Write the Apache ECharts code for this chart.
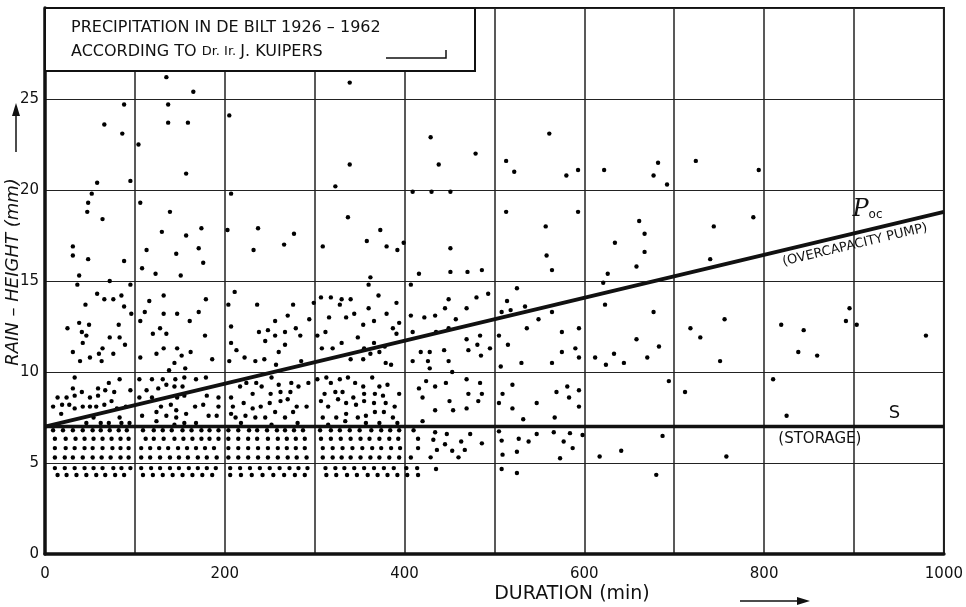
<!DOCTYPE html>
<html>
<head>
<meta charset="utf-8">
<script src="https://cdn.jsdelivr.net/npm/echarts@6/dist/echarts.min.js"></script>
<style>
  html, body { margin: 0; padding: 0; background: #fff; }
  #main { width: 966px; height: 607px; }
</style>
</head>
<body>
<div id="main"></div>
<script>
// axis labels
const xLabels = [0, 200, 400, 600, 800, 1000];
const yLabels = [0, 5, 10, 15, 20, 25];

// showers above 15 mm  [duration (min), rain height (mm)]
const stormsAbove15 = [
  [135,26.2],[165,25.4],[339,25.9],
  [88,24.7],[137,24.7],[66,23.6],[137,23.7],[159,23.7],[205,24.1],[86,23.1],[104,22.5],
  [429,22.9],[479,22.0],[339,21.4],[438,21.4],[157,20.9],[561,23.1],[513,21.6],[522,21.0],
  [580,20.8],[593,21.1],[622,21.1],[682,21.5],[677,20.8],[692,20.3],[724,21.6],[794,21.1],
  [58,20.4],[95,20.5],[323,20.2],[52,19.8],[48,19.3],[47,18.8],[64,18.4],[106,19.3],[139,18.8],
  [207,19.8],[409,19.9],[430,19.9],[451,19.9],[337,18.5],
  [130,17.7],[157,17.5],[174,17.9],[171,16.8],[176,16.0],[146,16.5],[113,16.7],[108,15.7],[123,15.4],[151,15.3],
  [31,16.9],[31,16.4],[48,16.2],[38,15.3],[88,16.1],[72,15.0],
  [203,17.8],[237,17.9],[232,16.7],[266,17.0],[277,17.6],[309,16.9],[358,17.2],[373,17.8],
  [380,16.9],[392,16.7],[399,17.1],[362,15.2],
  [513,18.8],[557,18.0],[558,16.4],[451,16.8],[416,15.4],[451,15.5],[470,15.5],[486,15.6],[564,15.6],[626,15.4],
  [593,18.8],[661,18.3],[667,17.6],[634,17.1],[667,16.6],[658,15.8],[744,18.0],[788,18.5],[740,16.2]
];

// showers between 10 and 15 mm
const storms10to15 = [
  [36,14.8],[360,14.8],[407,14.8],
  [58,14.3],[66,14.0],[76,14.0],[85,14.2],[45,13.7],[88,13.6],[96,13.2],[95,14.8],
  [25,12.4],[38,12.7],[41,12.2],[49,12.6],[46,12.0],[42,11.6],[31,11.1],[39,10.6],[50,10.8],
  [60,11.0],[63,10.6],[64,11.3],[72,11.9],[82,12.6],[83,11.9],[76,11.0],[89,11.5],
  [106,12.8],[111,13.3],[116,13.9],[132,14.2],[132,13.2],[128,12.4],[120,12.1],[135,12.1],
  [147,13.2],[161,12.8],[171,13.3],[179,14.0],[178,12.0],[124,11.0],[132,11.3],[106,10.8],
  [147,11.3],[152,10.9],[144,10.5],[162,11.1],[156,10.2],[138,10.1],[186,10.7],
  [204,13.7],[211,14.4],[236,13.7],[207,12.5],[207,11.6],[213,11.2],[205,10.6],[222,10.8],
  [234,10.6],[238,12.2],[248,12.3],[245,11.7],[256,12.8],[256,12.0],[260,11.1],[267,12.2],
  [270,13.1],[267,11.5],[276,13.7],[279,12.4],[284,12.0],[285,10.6],[294,12.9],[299,13.8],
  [244,10.7],[257,10.4],
  [303,12.0],[307,14.1],[318,14.1],[312,12.2],[316,13.0],[308,11.3],[320,11.3],[330,11.6],
  [328,13.7],[330,14.0],[340,14.0],[335,13.0],[344,13.2],[340,10.7],[354,12.6],[348,11.9],
  [360,13.5],[366,12.8],[366,11.6],[355,11.3],[354,10.7],[362,11.0],[371,14.2],[380,13.2],
  [391,13.8],[394,12.7],[387,12.4],[391,12.1],[378,11.4],[372,11.1],[379,10.5],[385,10.4],
  [407,13.1],[409,12.2],[409,10.6],
  [525,14.6],[493,14.3],[480,14.1],[449,14.0],[445,13.5],[469,13.5],[422,13.0],[434,13.1],
  [457,12.9],[514,13.9],[518,13.4],[534,13.6],[508,13.3],[564,13.3],[549,12.9],[435,12.2],
  [449,12.4],[536,12.4],[575,12.2],[594,12.4],[469,11.8],[484,12.0],[505,12.0],[481,11.5],
  [495,11.3],[471,11.2],[444,11.2],[418,11.1],[428,11.1],[515,11.5],[590,11.3],[575,11.1],
  [485,10.9],[426,10.6],[449,10.6],[594,10.8],[530,10.5],[564,10.5],[428,10.2],[453,10.0],[507,10.3],
  [621,14.9],[623,13.7],[612,10.8],[633,11.0],[624,10.4],[677,13.3],[658,11.8],[683,11.4],
  [644,10.5],[670,10.8],[718,12.4],[729,11.9],[756,12.9],[751,10.6],[819,12.6],[844,12.3],
  [838,11.1],[859,10.9],[895,13.5],[891,12.8],[903,12.6],[980,12.0]
];

// showers between storage level and 10 mm
const storms7to10 = [
  [33,9.7],[31,9.1],[41,8.9],[14,8.6],[24,8.6],[33,8.7],[50,8.6],[59,9.1],[71,9.4],[83,9.6],
  [67,9.0],[59,8.7],[77,8.9],[95,9.0],[9,8.1],[19,8.2],[27,8.2],[33,8.0],[42,8.1],[50,8.1],
  [57,8.1],[66,8.2],[74,8.4],[80,8.0],[90,8.1],[18,7.7],[46,7.2],[54,7.5],[62,7.2],[71,7.2],
  [83,7.5],[85,7.2],[94,7.2],
  [105,9.6],[119,9.6],[131,9.6],[145,9.6],[155,9.7],[113,9.0],[126,9.1],[135,9.3],[144,9.2],
  [153,9.2],[168,9.6],[179,9.7],[119,8.6],[105,8.6],[147,8.6],[155,8.7],[180,8.7],[193,8.6],
  [129,8.1],[140,8.2],[146,7.9],[167,8.1],[176,8.2],[108,7.6],[124,7.8],[135,7.6],[146,7.5],
  [157,7.7],[168,7.2],[182,7.6],[191,7.6],[124,7.3],[144,7.1],[155,7.2],[193,8.1],[207,8.6],[207,7.7],
  [217,9.2],[224,9.4],[235,9.4],[241,9.2],[252,9.7],[260,9.3],[274,9.4],[282,9.2],[293,9.4],
  [231,8.8],[251,8.8],[262,8.9],[273,8.9],[209,8.1],[221,8.3],[231,8.0],[240,8.1],[250,8.3],
  [262,8.4],[270,8.5],[280,8.1],[291,8.1],[212,7.5],[223,7.6],[234,7.5],[245,7.5],[256,7.8],
  [267,7.5],[276,7.8],[218,7.2],[252,7.1],[281,7.2],
  [303,9.6],[313,9.7],[318,9.4],[328,9.6],[337,9.7],[345,9.4],[354,9.2],[364,9.7],[372,9.2],
  [381,9.3],[394,8.8],[311,8.8],[323,8.9],[331,8.9],[343,8.6],[355,8.8],[367,8.8],[376,8.7],
  [307,8.4],[315,8.1],[326,8.5],[335,8.3],[346,8.2],[355,8.4],[366,8.3],[379,8.3],[389,8.1],
  [309,7.5],[324,7.5],[335,7.7],[348,7.5],[357,7.6],[367,7.8],[377,7.8],[387,7.5],[315,7.1],
  [334,7.3],[357,7.2],[372,7.2],[392,7.2],
  [424,9.5],[434,9.2],[446,9.4],[469,9.6],[484,9.4],[416,9.1],[420,8.6],[471,8.8],[486,8.8],
  [450,8.4],[482,8.4],[469,8.0],[454,7.9],[434,7.9],[420,7.3],[520,9.3],[509,8.8],[505,8.3],
  [520,8.0],[547,8.3],[532,7.4],[569,8.9],[581,9.2],[583,8.6],[594,9.0],[594,8.1],[567,7.5],
  [810,9.6],[694,9.5],[712,8.9],[825,7.6]
];

// scattered showers below storage level (beyond the dense rows)
const stormsBelow7 = [
  [434,6.69],[447,6.59],[473,6.59],[432,6.28],[445,6.03],[463,6.18],[486,6.08],[436,5.72],
  [453,5.67],[467,5.72],[429,5.31],[460,5.31],
  [505,6.74],[508,6.23],[527,6.33],[538,6.18],[547,6.59],[566,6.69],[584,6.64],[598,6.54],
  [577,6.18],[525,5.62],[509,5.46],[587,5.82],[573,5.26],[617,5.36],
  [687,6.49],[641,5.67],[758,5.36],[680,4.35],
  [435,4.67],[508,4.67],[525,4.45]
];

// dense rows of small showers (0-400 min)
const storageRowHeights = [6.8, 6.33, 5.82, 5.3, 4.72, 4.34];
const storageRowDurations = [
  [9,20,31,42,53,62,72,82,91,109,121,131,141,153,163,174,183,193,204,215,227,236,247,258,267,277,287,306,318,328,339,350,363,374,384,394,410],
  [11,23,34,44,54,64,74,84,93,112,121,132,144,154,164,174,183,193,204,215,226,236,248,259,269,279,289,307,318,329,340,351,361,372,383,393,415],
  [11,23,33,44,53,64,75,84,93,107,117,127,137,148,158,168,178,188,204,215,226,237,248,259,269,279,289,309,320,331,342,353,364,374,385,395,415],
  [11,22,31,42,53,63,73,84,93,107,117,128,139,149,159,170,180,191,204,215,226,237,248,259,270,280,291,309,320,330,340,351,362,372,383,394,407],
  [11,22,33,44,54,64,76,85,95,107,118,128,139,149,160,170,180,190,206,217,228,239,250,261,272,282,292,312,323,333,344,355,366,377,388,402,414],
  [14,24,35,46,57,67,78,88,109,120,131,142,153,164,175,186,206,218,230,242,254,266,278,289,313,324,336,347,359,370,381,392,403,415]
];

// design lines
const storageLine = [[0, 7], [1000, 7]];
const pumpLine = [[0, 7], [1000, 18.8]];

const storageRows = [];
storageRowDurations.forEach((row, i) => {
  row.forEach((d) => storageRows.push([d, storageRowHeights[i]]));
});

const FONT = "DejaVu Sans";
const INK = "#111";

const dot = (name, data) => ({
  name: name,
  type: "scatter",
  data: data,
  symbolSize: 4.4,
  itemStyle: { color: "#000", opacity: 1 },
  silent: true,
  z: 3,
});

const myChart = echarts.init(document.getElementById("main"));
const option = {
  animation: false,
  backgroundColor: "#fff",
  grid: {
    left: 45, right: 16, top: 8, bottom: 53,
    show: true, borderColor: INK, borderWidth: 2, backgroundColor: "#fff",
  },
  xAxis: {
    type: "value",
    min: 0, max: 1000, interval: 100,
    axisLine: { show: true, onZero: false, lineStyle: { color: INK, width: 3.5 } },
    axisTick: { show: false },
    splitLine: { show: true, lineStyle: { color: "#222", width: 1.5 } },
    axisLabel: {
      color: INK, fontSize: 15, fontFamily: FONT, margin: 13,
      formatter: (v) => (xLabels.includes(v) ? String(v) : ""),
    },
  },
  yAxis: {
    type: "value",
    min: 0, max: 30, interval: 5,
    axisLine: { show: true, onZero: false, lineStyle: { color: INK, width: 3.5 } },
    axisTick: { show: false },
    splitLine: { show: true, lineStyle: { color: "#222", width: 1.2 } },
    axisLabel: {
      color: INK, fontSize: 15, fontFamily: FONT, margin: 6,
      formatter: (v) => (yLabels.includes(v) ? String(v) : ""),
    },
  },
  series: [
    dot("above 15", stormsAbove15),
    dot("10-15", storms10to15),
    dot("7-10", storms7to10),
    dot("below 7", stormsBelow7),
    dot("rows", storageRows),
    {
      name: "S", type: "line", data: storageLine, symbol: "none", silent: true,
      lineStyle: { color: INK, width: 3.5 }, z: 4,
    },
    {
      name: "Poc", type: "line", data: pumpLine, symbol: "none", silent: true,
      lineStyle: { color: INK, width: 4 }, z: 4,
    },
  ],
};
myChart.setOption(option);

// annotations placed from data coordinates
const px = (p) => myChart.convertToPixel({ gridIndex: 0 }, p);
const sLabel = px([945, 7]);
const storeLabel = px([862, 7]);
const pStart = px(pumpLine[0]);
const pEnd = px(pumpLine[1]);
const angle = Math.atan2(pStart[1] - pEnd[1], pEnd[0] - pStart[0]);
const pocAt = px([915, 7 + (18.8 - 7) * 0.915]);
const pumpAt = px([898, 7 + (18.8 - 7) * 0.898]);

myChart.setOption({
  graphic: [
    // title box
    {
      type: "rect", z: 100,
      shape: { x: 45, y: 8, width: 430, height: 63 },
      style: { fill: "#fff", stroke: INK, lineWidth: 2 },
    },
    {
      type: "text", z: 101, x: 71, y: 28,
      style: { text: "PRECIPITATION IN DE BILT 1926 – 1962", font: "16px " + FONT, fill: INK, textVerticalAlign: "middle" },
    },
    {
      type: "text", z: 101, x: 71, y: 52,
      style: {
        text: "{a|ACCORDING TO }{b|Dr. Ir. }{a|J. KUIPERS}",
        fill: INK, textVerticalAlign: "middle",
        rich: {
          a: { fontSize: 16, fontFamily: FONT, fill: INK },
          b: { fontSize: 13, fontFamily: FONT, fill: INK },
        },
      },
    },
    {
      type: "polyline", z: 101,
      shape: { points: [[386, 58], [446, 58], [446, 50]] },
      style: { stroke: INK, lineWidth: 1.5, fill: null },
    },
    // axis titles
    {
      type: "text", x: 572, y: 594,
      style: { text: "DURATION (min)", font: "19px " + FONT, fill: INK, textAlign: "center", textVerticalAlign: "middle" },
    },
    {
      type: "line", shape: { x1: 740, y1: 601, x2: 800, y2: 601 },
      style: { stroke: INK, lineWidth: 1.5 },
    },
    {
      type: "polygon", shape: { points: [[810, 601], [797, 597], [797, 605]] },
      style: { fill: INK },
    },
    {
      type: "text", x: 13, y: 272, rotation: Math.PI / 2,
      style: { text: "RAIN – HEIGHT (mm)", font: "italic 18px " + FONT, fill: INK, textAlign: "center", textVerticalAlign: "middle" },
    },
    {
      type: "line", shape: { x1: 16, y1: 152, x2: 16, y2: 112 },
      style: { stroke: INK, lineWidth: 1.5 },
    },
    {
      type: "polygon", shape: { points: [[16, 103], [12, 116], [20, 116]] },
      style: { fill: INK },
    },
    // line labels
    {
      type: "text", x: sLabel[0], y: sLabel[1] - 4,
      style: { text: "S", font: "18px " + FONT, fill: INK, textAlign: "center", textVerticalAlign: "bottom" },
    },
    {
      type: "text", x: storeLabel[0], y: storeLabel[1] + 13,
      style: { text: "(STORAGE)", font: "15px " + FONT, fill: INK, textAlign: "center", textVerticalAlign: "middle" },
    },
    {
      type: "text", x: pocAt[0], y: pocAt[1] - 8,
      style: {
        text: "{p|P}{s|oc}", textAlign: "center", textVerticalAlign: "bottom",
        rich: {
          p: { fontSize: 24, fontFamily: "DejaVu Serif", fontStyle: "italic", fill: INK },
          s: { fontSize: 12, fontFamily: FONT, fill: INK, padding: [10, 0, 0, 0] },
        },
      },
    },
    {
      type: "text", x: pumpAt[0], y: pumpAt[1], rotation: angle,
      style: {
        text: "(OVERCAPACITY PUMP)", font: "13px " + FONT, fill: INK,
        textAlign: "center", textVerticalAlign: "top", y: 5,
      },
    },
  ],
});
</script>
</body>
</html>
